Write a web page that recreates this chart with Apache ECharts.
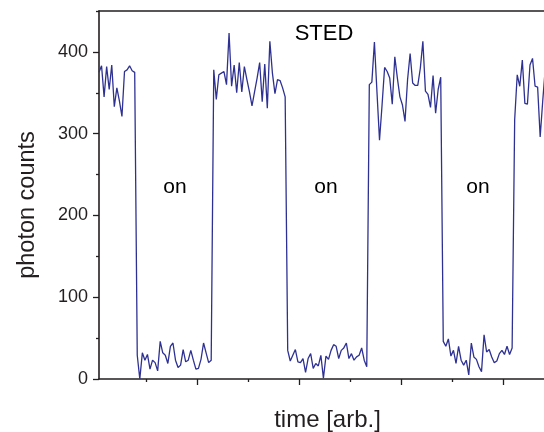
<!DOCTYPE html>
<html>
<head>
<meta charset="utf-8">
<script src="https://cdn.jsdelivr.net/npm/echarts@6/dist/echarts.min.js"></script>
<style>
html,body{margin:0;padding:0;background:#fff;}
#chart{width:544px;height:432px;}
</style>
</head>
<body>
<div id="chart"></div>
<script>
// Photon counts per time bin, split by STED state (off = high signal, on = suppressed)
const offPeriod1 = [375, 383, 345, 382, 354, 384, 333, 356, 340, 321, 376, 378, 383, 377, 375];
const onPeriod1  = [29, 0, 32, 23, 30, 12, 23, 20, 10, 46, 32, 29, 19, 40, 44, 23, 14, 17, 36, 21, 23, 35, 23, 12, 13, 24, 44, 32, 20, 23];
const offPeriod2 = [378, 342, 372, 374, 376, 360, 423, 358, 384, 350, 387, 351, 382, 366, 351, 334, 351, 368, 387, 339, 385, 331, 413, 374, 349, 366, 365, 356, 345];
const onPeriod2  = [35, 22, 29, 36, 21, 20, 25, 8, 25, 31, 13, 19, 16, 29, 1, 28, 24, 35, 42, 40, 25, 35, 38, 44, 25, 31, 23, 27, 29, 38, 23, 15];
const offPeriod3 = [360, 363, 412, 351, 292, 335, 381, 376, 368, 336, 394, 368, 345, 335, 315, 366, 398, 362, 359, 359, 380, 413, 352, 348, 332, 371, 325, 354, 369];
const onPeriod3  = [46, 40, 49, 28, 35, 19, 40, 23, 17, 23, 5, 44, 27, 24, 15, 9, 54, 33, 36, 27, 20, 22, 31, 35, 30, 40, 30, 38];
const offPeriod4 = [317, 372, 358, 390, 337, 336, 384, 392, 358, 357, 296, 340, 380];

// axis ticks (time axis in sample bins; y axis in counts)
const xMajorTicks = [38.4, 78.4, 118.4, 158.4];
const xMinorTicks = [18.4, 58.4, 98.4, 138.4];
const yTickLabels = [0, 100, 200, 300, 400];
const yMinorTicks = [50, 150, 250, 350, 450];
const onLabels = ['on', 'on', 'on'];

const counts = [].concat(offPeriod1, onPeriod1, offPeriod2, onPeriod2, offPeriod3, onPeriod3, offPeriod4);
const seriesData = counts.map((v, i) => [i, v]);

const ink = '#231f20';
const font = 'Liberation Sans, Arial, sans-serif';

const chart = echarts.init(document.getElementById('chart'), null, {renderer: 'canvas'});
const onX = [175, 326, 478];

chart.setOption({
  animation: false,
  backgroundColor: '#ffffff',
  grid: {left: 99, right: 0, top: 11, bottom: 53, containLabel: false, outerBoundsMode: 'none'},
  xAxis: [
    {
      type: 'value', min: 0, max: 174.5, position: 'bottom',
      name: 'time [arb.]', nameLocation: 'middle', nameGap: 29,
      nameTextStyle: {fontSize: 24, color: ink, fontFamily: font, padding: [0, 0, 0, 12]},
      axisLine: {show: true, lineStyle: {color: ink, width: 1.6}},
      axisTick: {show: true, customValues: xMajorTicks, length: 6, lineStyle: {color: ink, width: 1.3}},
      axisLabel: {show: false},
      splitLine: {show: false}
    },
    {
      type: 'value', min: 0, max: 174.5, position: 'bottom',
      axisLine: {show: false},
      axisTick: {show: true, customValues: xMinorTicks, length: 3, lineStyle: {color: ink, width: 1.3}},
      axisLabel: {show: false},
      splitLine: {show: false}
    },
    {
      type: 'value', min: 0, max: 174.5, position: 'top',
      axisLine: {show: true, lineStyle: {color: ink, width: 1.6}},
      axisTick: {show: false},
      axisLabel: {show: false},
      splitLine: {show: false}
    }
  ],
  yAxis: [
    {
      type: 'value', min: 0, max: 450, position: 'left',
      name: 'photon counts', nameLocation: 'middle', nameGap: 59, nameRotate: 90,
      nameTextStyle: {fontSize: 23.5, color: ink, fontFamily: font, padding: [0, 20, 0, 0]},
      axisLine: {show: true, lineStyle: {color: ink, width: 1.6}},
      axisTick: {show: true, customValues: yTickLabels, length: 6, lineStyle: {color: ink, width: 1.3}},
      axisLabel: {show: true, customValues: yTickLabels, margin: 11, fontSize: 18, color: ink, fontFamily: font},
      splitLine: {show: false}
    },
    {
      type: 'value', min: 0, max: 450, position: 'left',
      axisLine: {show: false},
      axisTick: {show: true, customValues: yMinorTicks, length: 3, lineStyle: {color: ink, width: 1.3}},
      axisLabel: {show: false},
      splitLine: {show: false}
    }
  ],
  graphic: [
    {type: 'text', x: 324, y: 34, style: {text: 'STED', fill: '#000', font: '22px ' + font, align: 'center', verticalAlign: 'middle'}}
  ].concat(onLabels.map((t, k) => ({
    type: 'text', x: onX[k], y: 187,
    style: {text: t, fill: '#000', font: '21px ' + font, align: 'center', verticalAlign: 'middle'}
  }))),
  series: [
    {
      type: 'line', xAxisIndex: 0, yAxisIndex: 0,
      data: seriesData, showSymbol: false, symbol: 'none',
      lineStyle: {color: '#2e3192', width: 1.3},
      clip: true
    }
  ]
});
</script>
</body>
</html>
